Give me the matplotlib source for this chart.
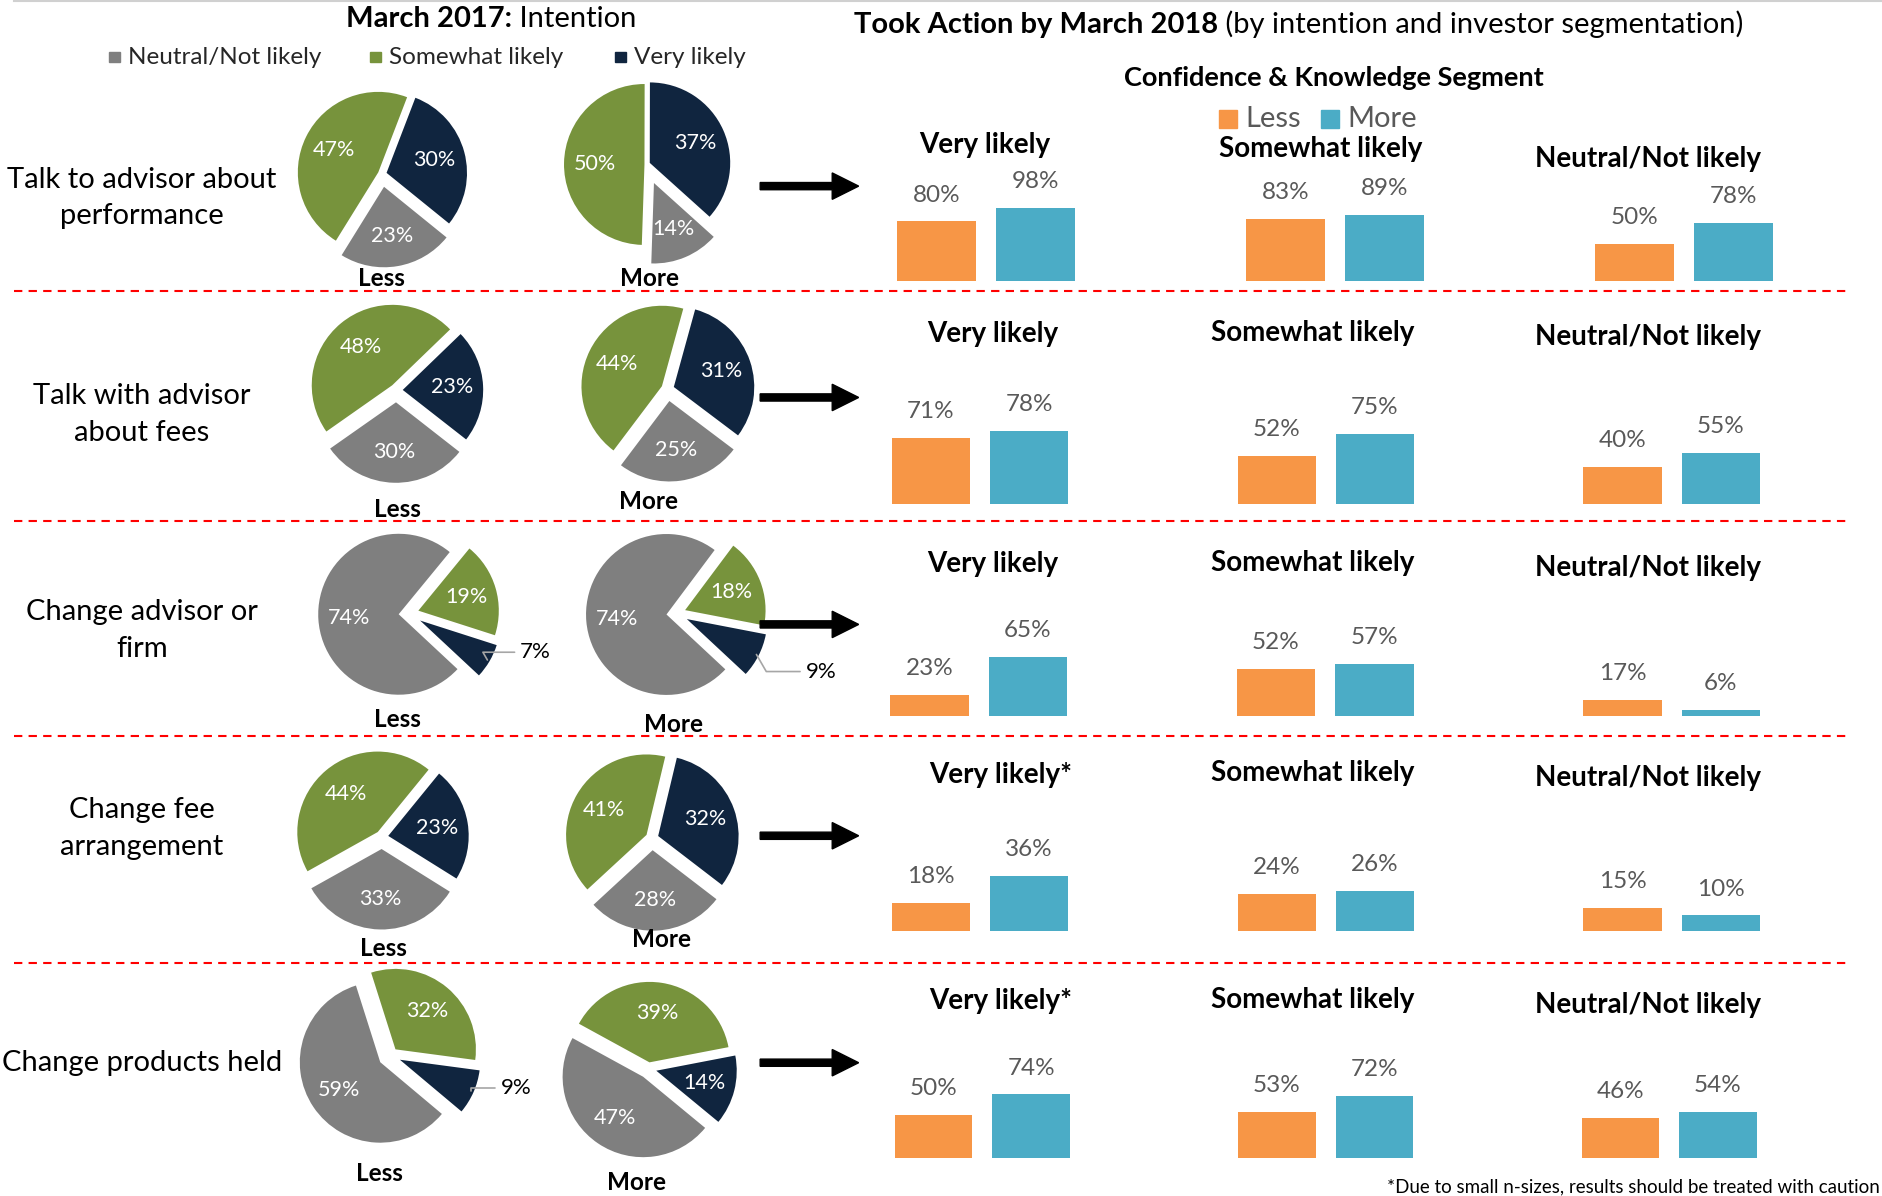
import numpy as np
import matplotlib
matplotlib.use("Agg")
import matplotlib.pyplot as plt
from matplotlib.patches import FancyArrow, Rectangle

plt.rcParams['font.family'] = ['Lato', 'DejaVu Sans']

# ---- data ----
actions = ["Talk to advisor about\nperformance", "Talk with advisor\nabout fees",
           "Change advisor or\nfirm", "Change fee\narrangement", "Change products held"]
intent_cats = ["Neutral/Not likely", "Somewhat likely", "Very likely"]
# March 2017 intention, order: Neutral, Somewhat, Very
pie_less = [[23, 47, 30], [30, 48, 23], [74, 19, 7], [33, 44, 23], [59, 32, 9]]
pie_more = [[14, 50, 37], [25, 44, 31], [74, 18, 9], [28, 41, 32], [47, 39, 14]]
# Took action by March 2018, order: Very, Somewhat, Neutral
took_groups = ["Very likely", "Somewhat likely", "Neutral/Not likely"]
took_less = [[80, 83, 50], [71, 52, 40], [23, 52, 17], [18, 24, 15], [50, 53, 46]]
took_more = [[98, 89, 78], [78, 75, 55], [65, 57, 6], [36, 26, 10], [74, 72, 54]]
small_n = [False, False, False, True, True]

pie_colors = ["#7F7F7F", "#77933C", "#10253F"]
c_less, c_more = "#F79646", "#4BACC6"

# ---- layout (reference pixel space) ----
W, H = 1568, 996
R = 67
pie_less_geo = [((318, 145), -39, [0.16, 0.05, 0.06]),
                ((330, 325), -38, [0.15, 0.08, 0.08]),
                ((340, 511), -43, [0.12, 0.13, 0.17]),
                ((318, 697), -32, [0.15, 0.08, 0.08]),
                ((325, 879), -40, [0.15, 0.10, 0.13])]
pie_more_geo = [((538, 137), -42, [0.25, 0.02, 0.05]),
                ((556, 324), -37, [0.15, 0.08, 0.08]),
                ((563, 511), -43, [0.12, 0.12, 0.15]),
                ((543, 698), -37.5, [0.15, 0.08, 0.08]),
                ((540, 890), -39.5, [0.12, 0.08, 0.10])]
# outside label positions (R units) and leader angle
outside_less = {2: ((1.39, -0.48), 120), 4: ((1.37, -0.40), 90)}
outside_more = {2: ((1.61, -0.72), 120)}
less_lbl = [(318, 232), (331, 424), (331, 599), (319, 790), (316, 977)]
more_lbl = [(541, 232), (540, 418), (561, 603), (551, 782), (530, 985)]
row_y = [165, 345, 525, 690, 885]
arrow_y = [155, 331, 520, 696, 885]
dividers = [242, 434, 613, 802]
bar_base = [234, 420, 596, 775, 964]
bar_scale = [0.62, 0.78, 0.75, 1.26, 0.71]
bar_centers = [(821, 1402), (816, 1392), (815, 1392), (816, 1392), (818, 1390)]
title_x = [[820, 1100, 1372]] + [[827, 1093, 1372]] * 4
title_y = [[121, 124, 132], [278, 277, 281], [470, 469, 473], [645, 644, 648], [834, 833, 837]]

fig = plt.figure(figsize=(18.83, 11.96), dpi=100)
fig.patch.set_facecolor("white")


def draw_pie(center, start, explode, vals, outside):
    cx, cy = center
    half = 115
    ax = fig.add_axes([(cx - half) / W, 1 - (cy + half) / H, 2 * half / W, 2 * half / H])
    total = sum(vals)
    wedges, _, autotexts = ax.pie(
        vals, colors=pie_colors, startangle=start, counterclock=False,
        explode=explode, pctdistance=0.62,
        autopct=lambda p: f"{p * total / 100:.0f}%" if p * total / 100 >= 10 else "",
        wedgeprops=dict(linewidth=0),
        textprops=dict(color="white", fontsize=15.5))
    ax.set_xlim(-half / R, half / R)
    ax.set_ylim(-half / R, half / R)
    ax.axis("off")
    for idx, ((tx, ty), ang) in outside.items():
        w = wedges[2]
        mid = np.deg2rad((w.theta1 + w.theta2) / 2)
        ex, ey = w.center[0] + 0.97 * np.cos(mid), w.center[1] + 0.97 * np.sin(mid)
        ax.annotate(f"{vals[2]}%", xy=(ex, ey), xytext=(tx, ty), ha="left", va="center",
                    fontsize=16, color="black",
                    arrowprops=dict(arrowstyle="-", color="#A6A6A6", lw=1.2,
                                    shrinkA=2, shrinkB=0,
                                    connectionstyle=f"angle,angleA=0,angleB={ang},rad=0"))


for i in range(5):
    c, s, e = pie_less_geo[i]
    draw_pie(c, s, e, pie_less[i], {i: outside_less[i]} if i in outside_less else {})
    c, s, e = pie_more_geo[i]
    draw_pie(c, s, e, pie_more[i], {i: outside_more[i]} if i in outside_more else {})

# bar charts
for i in range(5):
    c0, c2 = bar_centers[i]
    sp = (c2 - c0) / 2
    left = c0 - 0.5 * sp
    axh = 130
    ax = fig.add_axes([left / W, 1 - bar_base[i] / H, 3 * sp / W, axh / H])
    ax.set_xlim(-0.5, 2.5)
    ax.set_ylim(0, axh / bar_scale[i])
    x = np.arange(len(took_groups))
    b1 = ax.bar(x - 0.142, took_less[i], width=0.226, color=c_less)
    b2 = ax.bar(x + 0.142, took_more[i], width=0.226, color=c_more)
    for bars, vals in ((b1, took_less[i]), (b2, took_more[i])):
        for b, v in zip(bars, vals):
            ax.annotate(f"{v}%", (b.get_x() + b.get_width() / 2, v), xytext=(0, 19),
                        textcoords="offset points", ha="center", va="center",
                        fontsize=17.5, color="#595959")
    ax.axis("off")

# overlay for text, arrows and separators
ov = fig.add_axes([0, 0, 1, 1], zorder=10)
ov.set_xlim(0, W)
ov.set_ylim(H, 0)
ov.axis("off")
ov.patch.set_alpha(0)

ov.plot([12, 1568], [1, 1], color="#D0D0D0", lw=1.5)
for y in dividers:
    ov.plot([12, 1540], [y, y], color="red", lw=1.5, ls=(0, (4, 3)))

t1 = ov.text(288, 16, "March 2017:", fontsize=21, fontweight="bold", ha="left", va="center")
ov.annotate(" Intention", xy=(1, 0), xycoords=t1, ha="left", va="bottom", fontsize=21)
t2 = ov.text(711, 21, "Took Action by March 2018", fontsize=21, fontweight="bold", ha="left", va="center")
ov.annotate(" (by intention and investor segmentation)", xy=(1, 0), xycoords=t2,
            ha="left", va="bottom", fontsize=21)

# pie legend
leg_x = [91, 308, 512]
for lx, lab, col in zip(leg_x, intent_cats, pie_colors):
    ov.add_patch(Rectangle((lx, 43), 9, 9, color=col))
    ov.text(lx + 16, 48, lab, fontsize=17.5, color="#262626", ha="left", va="center")

ov.text(1111, 65, "Confidence & Knowledge Segment", fontsize=19.5, fontweight="bold",
        ha="center", va="center")
for lx, lab, col in ((1015, "Less", c_less), (1100, "More", c_more)):
    ov.add_patch(Rectangle((lx, 92), 15, 15, color=col))
    ov.text(lx + 22, 99, lab, fontsize=21, color="#595959", ha="left", va="center")

for i in range(5):
    ov.text(118, row_y[i], actions[i], fontsize=21, ha="center", va="center",
            linespacing=1.5, color="black")
    ov.text(*less_lbl[i], "Less", fontsize=17.5, fontweight="bold", ha="center", va="center")
    ov.text(*more_lbl[i], "More", fontsize=17.5, fontweight="bold", ha="center", va="center")
    ov.add_patch(FancyArrow(633, arrow_y[i], 82, 0, width=6, head_width=22, head_length=22,
                            length_includes_head=True, color="black"))
    for j, g in enumerate(took_groups):
        lab = g + ("*" if (j == 0 and small_n[i]) else "")
        tx = title_x[i][j] + (6 if (j == 0 and small_n[i]) else 0)
        ov.text(tx, title_y[i][j], lab, fontsize=20, fontweight="bold",
                ha="center", va="center")

ov.text(1565, 988, "*Due to small n-sizes, results should be treated with caution",
        fontsize=13.5, ha="right", va="center", color="black")

fig.savefig("out.png", dpi=100)
